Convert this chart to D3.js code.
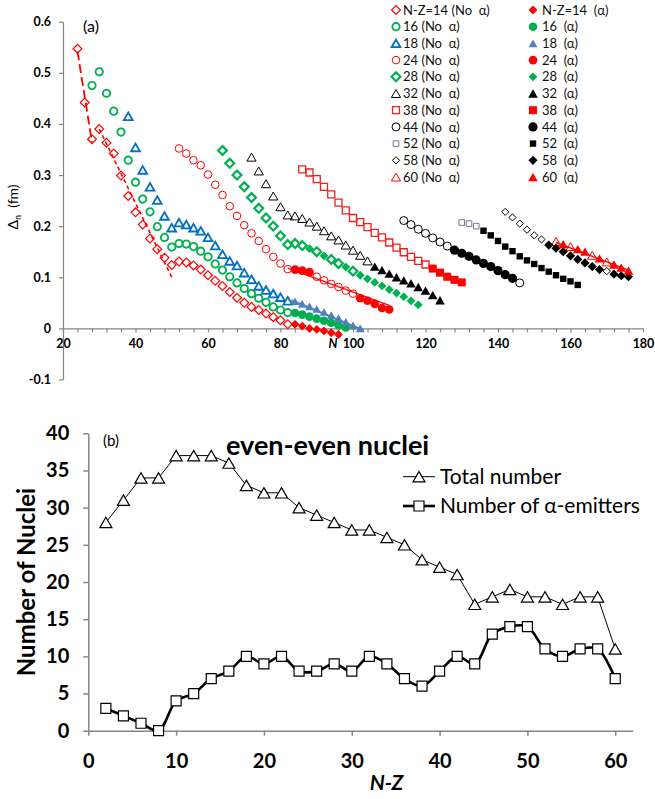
<!DOCTYPE html>
<html>
<head>
<meta charset="utf-8">
<script src="https://cdn.jsdelivr.net/npm/d3@7"></script>
<style>
  html, body { margin: 0; padding: 0; background: #fff; }
  svg { display: block; font-family: Lato, "Open Sans", sans-serif; }
  .pre { white-space: pre; }
</style>
</head>
<body>
<svg id="chart" width="655" height="799"></svg>
<script>
// ---------- Panel (a): Δn against N for chains of fixed N-Z ----------
// Each array holds [N, Δn (fm)] pairs.
const nz14NoAlpha = [[24,0.547],[26,0.442],[28,0.370],[30,0.390],[32,0.363],[34,0.342],[36,0.299],[38,0.259],[40,0.227],[42,0.203],[44,0.176],[46,0.155],[48,0.138],[50,0.124],[52,0.131],[54,0.129],[56,0.123],[58,0.115],[60,0.104],[62,0.093],[64,0.083],[66,0.071],[68,0.060],[70,0.050],[72,0.042],[74,0.036],[76,0.029],[78,0.022],[80,0.016],[82,0.008]];
const nz14Alpha = [[84,0.008],[86,0.0045],[88,0.0],[90,-0.002],[92,-0.005],[94,-0.0085],[96,-0.012]];
const nz16NoAlpha = [[28,0.475],[30,0.502],[32,0.460],[34,0.425],[36,0.384],[38,0.329],[40,0.286],[42,0.253],[44,0.228],[46,0.199],[48,0.178],[50,0.159],[52,0.166],[54,0.165],[56,0.160],[58,0.151],[60,0.140],[62,0.126],[64,0.114],[66,0.101],[68,0.089],[70,0.078],[72,0.068],[74,0.059],[76,0.051],[78,0.042],[80,0.036],[82,0.031]];
const nz16Alpha = [[84,0.030],[86,0.027],[88,0.023],[90,0.019],[92,0.015],[94,0.011],[96,0.006],[98,0.002]];
const nz18NoAlpha = [[38,0.415],[40,0.354],[42,0.310],[44,0.277],[46,0.251],[48,0.220],[50,0.197],[52,0.207],[54,0.203],[56,0.197],[58,0.191],[60,0.178],[62,0.162],[64,0.145],[66,0.132],[68,0.123],[70,0.109],[72,0.096],[74,0.083],[76,0.075],[78,0.068],[80,0.061],[82,0.054]];
const nz18Alpha = [[84,0.053],[86,0.048],[88,0.043],[90,0.038],[92,0.032],[94,0.026],[96,0.020],[98,0.013],[100,0.006],[102,0.000]];
const nz24NoAlpha = [[52,0.352],[54,0.342],[56,0.329],[58,0.319],[60,0.301],[62,0.281],[64,0.261],[66,0.239],[68,0.220],[70,0.202],[72,0.186],[74,0.171],[76,0.155],[78,0.140],[80,0.127],[82,0.116],[90,0.101],[92,0.094],[94,0.087],[96,0.081],[98,0.074],[100,0.068]];
const nz24Alpha = [[84,0.115],[86,0.113],[88,0.110],[102,0.059],[104,0.054],[106,0.048],[108,0.040],[110,0.037]];
const nz28NoAlpha = [[64,0.348],[66,0.323],[68,0.300],[70,0.277],[72,0.256],[74,0.235],[76,0.216],[78,0.200],[80,0.181],[82,0.164],[84,0.166],[86,0.162],[90,0.150],[94,0.135],[96,0.127],[100,0.112]];
const nz28Alpha = [[88,0.156],[92,0.142],[98,0.120],[102,0.104],[104,0.097],[106,0.090],[108,0.083],[110,0.076],[112,0.069],[114,0.062],[116,0.054],[118,0.046]];
const nz32NoAlpha = [[72,0.335],[74,0.308],[76,0.283],[78,0.259],[80,0.238],[82,0.222],[84,0.220],[86,0.215],[88,0.208],[90,0.200],[92,0.191],[94,0.181],[96,0.173],[98,0.163],[100,0.153],[102,0.143],[104,0.132]];
const nz32Alpha = [[106,0.121],[108,0.114],[110,0.107],[112,0.100],[114,0.094],[116,0.088],[118,0.081],[120,0.074],[122,0.065],[124,0.055]];
const nz38NoAlpha = [[86,0.311],[88,0.305],[90,0.292],[92,0.277],[94,0.262],[96,0.246],[98,0.231],[100,0.216],[102,0.208],[104,0.198],[106,0.187],[108,0.178],[110,0.168],[112,0.158],[114,0.149],[116,0.140],[118,0.132],[120,0.125]];
const nz38Alpha = [[122,0.117],[124,0.109],[126,0.101],[128,0.095],[130,0.090]];
const nz44NoAlpha = [[114,0.211],[116,0.203],[118,0.194],[120,0.186],[122,0.177],[124,0.169],[126,0.161],[146,0.089]];
const nz44Alpha = [[128,0.153],[130,0.147],[132,0.141],[134,0.134],[136,0.127],[138,0.121],[140,0.113],[142,0.105],[144,0.098]];
const nz52NoAlpha = [[130,0.207],[132,0.205],[134,0.200]];
const nz52Alpha = [[136,0.191],[138,0.182],[140,0.171],[142,0.160],[144,0.151],[146,0.141],[148,0.133],[150,0.126],[152,0.118],[154,0.111],[156,0.104],[158,0.097],[160,0.092],[162,0.085]];
const nz58NoAlpha = [[142,0.228],[144,0.217],[146,0.205],[148,0.193],[150,0.182],[152,0.174],[170,0.112]];
const nz58Alpha = [[154,0.163],[156,0.157],[158,0.150],[160,0.142],[162,0.135],[164,0.128],[166,0.121],[168,0.115],[172,0.106],[174,0.103],[176,0.101]];
const nz60NoAlpha = [[156,0.170],[160,0.160],[166,0.143],[170,0.130]];
const nz60Alpha = [[158,0.165],[162,0.155],[164,0.150],[168,0.137],[172,0.125],[174,0.119],[176,0.113]];

// Guide lines drawn through parts of some chains
const guide14Steep = [[24,0.542],[28,0.364]];
const guide14Lower = [[30,0.390],[50,0.100]];
const guide18Alpha = [[83,0.055],[103,-0.004]];
const guide24 = [[82,0.118],[110,0.045]];
const guide60 = [[156,0.168],[176,0.114]];

const yTicksA = [-0.1, 0, 0.1, 0.2, 0.3, 0.4, 0.5, 0.6];
const xLabelsA = [20, 40, 60, 80, 100, 120, 140, 160, 180];

// ---------- Panel (b): number of even-even nuclei per N-Z ----------
const nzValues = [2,4,6,8,10,12,14,16,18,20,22,24,26,28,30,32,34,36,38,40,42,44,46,48,50,52,54,56,58,60];
const totalNumber = [28,31,34,34,37,37,37,36,33,32,32,30,29,28,27,27,26,25,23,22,21,17,18,19,18,18,17,18,18,11];
const alphaEmitters = [3,2,1,0,4,5,7,8,10,9,10,8,8,9,8,10,9,7,6,8,10,9,13,14,14,11,10,11,11,7];
const xTicksB = [0,10,20,30,40,50,60];
const yTicksB = [0,5,10,15,20,25,30,35,40];

// ---------- marker shapes ----------
function markerPath(shape, s) {
  if (shape === "circle") return `M${s},0A${s},${s} 0 1,1 ${-s},0A${s},${s} 0 1,1 ${s},0Z`;
  if (shape === "diamond") return `M0,${-s}L${s},0L0,${s}L${-s},0Z`;
  if (shape === "square") return `M${-s},${-s}H${s}V${s}H${-s}Z`;
  // triangle: s is the half width, box-centred
  const h = s * 1.732;
  return `M0,${-h/2}L${s},${h/2}L${-s},${h/2}Z`;
}

const RED = "#ff0000", GREEN = "#00b050", BLUE = "#0070c0", STEEL = "#4f81bd", PURPLE = "#7f6f9c";

const seriesA = [
  {data: nz14NoAlpha, label: "N-Z=14 (No  α)", shape: "diamond", color: RED, filled: false, s: 4.4, sw: 1.2},
  {data: nz16NoAlpha, label: "16 (No  α)", shape: "circle", color: GREEN, filled: false, s: 3.7, sw: 1.8},
  {data: nz18NoAlpha, label: "18 (No  α)", shape: "triangle", color: BLUE, filled: false, s: 4.4, sw: 1.8},
  {data: nz24NoAlpha, label: "24 (No  α)", shape: "circle", color: RED, filled: false, s: 3.8, sw: 1.0},
  {data: nz28NoAlpha, label: "28 (No  α)", shape: "diamond", color: GREEN, filled: false, s: 4.4, sw: 2.2},
  {data: nz32NoAlpha, label: "32 (No  α)", shape: "triangle", color: "#000", filled: false, s: 4.6, sw: 1.0},
  {data: nz38NoAlpha, label: "38 (No  α)", shape: "square", color: "#f21d1d", filled: false, s: 3.5, sw: 1.3},
  {data: nz44NoAlpha, label: "44 (No  α)", shape: "circle", color: "#000", filled: false, s: 4.0, sw: 1.0},
  {data: nz52NoAlpha, label: "52 (No  α)", shape: "square", color: PURPLE, filled: false, s: 2.8, sw: 1.0},
  {data: nz58NoAlpha, label: "58 (No  α)", shape: "diamond", color: "#000", filled: false, s: 3.6, sw: 1.0},
  {data: nz60NoAlpha, label: "60 (No  α)", shape: "triangle", color: RED, filled: false, s: 4.6, sw: 1.0},
  {data: nz14Alpha, label: "N-Z=14  (α)", shape: "diamond", color: RED, filled: true, s: 4.4, sw: 0},
  {data: nz16Alpha, label: "16  (α)", shape: "circle", color: GREEN, filled: true, s: 4.3, sw: 0},
  {data: nz18Alpha, label: "18  (α)", shape: "triangle", color: STEEL, filled: true, s: 4.4, sw: 0},
  {data: nz24Alpha, label: "24  (α)", shape: "circle", color: RED, filled: true, s: 4.3, sw: 0},
  {data: nz28Alpha, label: "28  (α)", shape: "diamond", color: GREEN, filled: true, s: 4.4, sw: 0},
  {data: nz32Alpha, label: "32  (α)", shape: "triangle", color: "#000", filled: true, s: 4.8, sw: 0},
  {data: nz38Alpha, label: "38  (α)", shape: "square", color: RED, filled: true, s: 4.0, sw: 0},
  {data: nz44Alpha, label: "44  (α)", shape: "circle", color: "#000", filled: true, s: 4.6, sw: 0},
  {data: nz52Alpha, label: "52  (α)", shape: "square", color: "#000", filled: true, s: 3.2, sw: 0},
  {data: nz58Alpha, label: "58  (α)", shape: "diamond", color: "#000", filled: true, s: 4.6, sw: 0},
  {data: nz60Alpha, label: "60  (α)", shape: "triangle", color: RED, filled: true, s: 4.8, sw: 0}
];

const svg = d3.select("#chart");
const AXIS = "#868686";

// ================= Panel (a) =================
const xA = d3.scaleLinear().domain([20, 180]).range([63, 643]);
const yA = d3.scaleLinear().domain([-0.1, 0.6]).range([379.5, 21.7]);
const gA = svg.append("g");

// y axis
const yAxisA = gA.append("g").attr("transform", `translate(${xA(20)},0)`)
  .call(d3.axisLeft(yA).tickValues(yTicksA).tickSize(4).tickSizeOuter(0).tickPadding(8)
    .tickFormat(d => d === 0 ? "0" : (d < 0 ? "-" + Math.abs(d).toFixed(1) : d.toFixed(1))));
// x axis on the zero line, tick marks every 4 units
const xAxisA = gA.append("g").attr("transform", `translate(0,${yA(0)})`)
  .call(d3.axisBottom(xA).tickValues(d3.range(20, 181, 4)).tickSize(4).tickSizeOuter(0).tickPadding(7)
    .tickFormat(d => xLabelsA.includes(d) ? d : ""));
[yAxisA, xAxisA].forEach(ax => {
  ax.select(".domain").attr("stroke", AXIS).attr("stroke-width", 1.2);
  ax.selectAll(".tick line").attr("stroke", AXIS).attr("stroke-width", 1.2);
  ax.selectAll("text").attr("font-family", "Lato, sans-serif").attr("font-weight", "bold")
    .attr("font-size", 12.5).attr("fill", "#000");
});

// axis titles and panel tag
gA.append("text").attr("x", 333).attr("y", 348).attr("text-anchor", "middle")
  .attr("font-weight", "bold").attr("font-style", "italic").attr("font-size", 12.5).text("N");
const yTitleA = gA.append("text").attr("transform", "translate(18,207) rotate(-90)")
  .attr("text-anchor", "middle").attr("font-size", 14).attr("class", "pre");
yTitleA.append("tspan").text("Δ");
yTitleA.append("tspan").attr("font-size", 9).attr("dy", 3).text("n");
yTitleA.append("tspan").attr("dy", -3).text("  (fm)");
gA.append("text").attr("x", 83).attr("y", 32).attr("font-size", 16).text("(a)");

// guide lines
const lineA = d3.line().x(d => xA(d[0])).y(d => yA(d[1]));
gA.append("path").attr("d", lineA(guide14Steep)).attr("fill", "none").attr("stroke", RED)
  .attr("stroke-width", 1.8).attr("stroke-dasharray", "9,4");
gA.append("path").attr("d", lineA(guide14Lower)).attr("fill", "none").attr("stroke", RED)
  .attr("stroke-width", 1.6).attr("stroke-dasharray", "4,3");
gA.append("path").attr("d", lineA(guide18Alpha)).attr("fill", "none").attr("stroke", STEEL)
  .attr("stroke-width", 2.2);
gA.append("path").attr("d", lineA(guide24)).attr("fill", "none").attr("stroke", RED).attr("stroke-width", 1.2);
gA.append("path").attr("d", lineA(guide60)).attr("fill", "none").attr("stroke", RED).attr("stroke-width", 1.4);

// markers
function drawMarkers(g, s, pts) {
  g.selectAll(null).data(pts).join("path")
    .attr("transform", d => `translate(${d[0]},${d[1]})`)
    .attr("d", markerPath(s.shape, s.s))
    .attr("fill", s.filled ? s.color : "none")
    .attr("stroke", s.filled ? "none" : s.color)
    .attr("stroke-width", s.sw);
}
seriesA.forEach(s => {
  drawMarkers(gA.append("g"), s, s.data.map(d => [xA(d[0]), yA(d[1])]));
});

// legend: two columns, no-α chains left, α chains right
const legendRows = 11, rowY0 = 10, rowStep = 16.7;
seriesA.forEach((s, i) => {
  const col = i < legendRows ? 0 : 1;
  const row = i % legendRows;
  const y = rowY0 + row * rowStep;
  const mx = col === 0 ? 396 : 533;
  const g = gA.append("g");
  drawMarkers(g, s, [[mx, y]]);
  g.append("text").attr("class", "pre").attr("x", col === 0 ? 403 : 542).attr("y", y + 4.6)
    .attr("font-size", 13).attr("fill", "#111").text(s.label);
});

// ================= Panel (b) =================
const xB = d3.scaleLinear().domain([0, 62]).range([88.3, 632.8]);
const yB = d3.scaleLinear().domain([0, 40]).range([730.7, 433.3]);
const gB = svg.append("g");

const yAxisB = gB.append("g").attr("transform", `translate(${xB(0)},0)`)
  .call(d3.axisLeft(yB).tickValues(yTicksB).tickSize(5).tickSizeOuter(0).tickPadding(14));
const xAxisB = gB.append("g").attr("transform", `translate(0,${yB(0)})`)
  .call(d3.axisBottom(xB).tickValues(xTicksB).tickSize(5).tickSizeOuter(0).tickPadding(18));
[yAxisB, xAxisB].forEach(ax => {
  ax.select(".domain").attr("stroke", AXIS).attr("stroke-width", 1.5);
  ax.selectAll(".tick line").attr("stroke", AXIS).attr("stroke-width", 1.5);
  ax.selectAll("text").attr("font-family", "Lato, sans-serif").attr("font-weight", "bold")
    .attr("font-size", 20).attr("fill", "#000");
});

gB.append("text").attr("transform", "translate(25,582) rotate(-90)").attr("text-anchor", "middle")
  .attr("dominant-baseline", "central").attr("font-weight", "bold").attr("font-size", 24).text("Number of Nuclei");
gB.append("text").attr("x", 386.5).attr("y", 790).attr("text-anchor", "middle")
  .attr("font-weight", "bold").attr("font-style", "italic").attr("font-size", 21).text("N-Z");
gB.append("text").attr("x", 103).attr("y", 446).attr("font-size", 15).text("(b)");
gB.append("text").attr("x", 226).attr("y", 455).attr("font-weight", "bold").attr("font-size", 27)
  .text("even-even nuclei");

const totalPts = nzValues.map((n, i) => [xB(n), yB(totalNumber[i])]);
const alphaPts = nzValues.map((n, i) => [xB(n), yB(alphaEmitters[i])]);

gB.append("path").attr("d", d3.line()(totalPts)).attr("fill", "none").attr("stroke", "#000").attr("stroke-width", 1);
gB.append("path").attr("d", d3.line().curve(d3.curveCatmullRom.alpha(0.5))(alphaPts))
  .attr("fill", "none").attr("stroke", "#000").attr("stroke-width", 2.6);

const triB = {shape: "triangle", s: 6, sw: 1.2};
const sqB = {shape: "square", s: 5, sw: 1.2};
function drawOpenB(pts, m) {
  gB.append("g").selectAll(null).data(pts).join("path")
    .attr("transform", d => `translate(${d[0]},${d[1]})`)
    .attr("d", markerPath(m.shape, m.s)).attr("fill", "#fff").attr("stroke", "#000").attr("stroke-width", m.sw);
}
drawOpenB(totalPts, triB);
drawOpenB(alphaPts, sqB);

// legend (b)
const legB = [
  {y: 476.7, m: triB, w: 1, label: "Total number"},
  {y: 506, m: sqB, w: 2.6, label: "Number of α-emitters"}
];
legB.forEach(l => {
  gB.append("line").attr("x1", 403).attr("x2", 435).attr("y1", l.y).attr("y2", l.y)
    .attr("stroke", "#000").attr("stroke-width", l.w);
  drawOpenB([[419, l.y]], l.m);
  gB.append("text").attr("x", 440).attr("y", l.y + 7).attr("font-size", 21).text(l.label);
});
</script>
</body>
</html>
